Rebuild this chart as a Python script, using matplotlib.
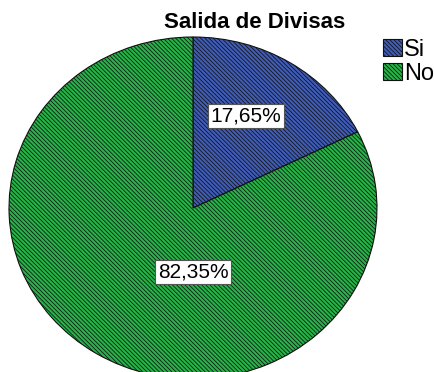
import matplotlib
matplotlib.use("Agg")
import matplotlib.pyplot as plt
from matplotlib.patches import Patch

plt.rcParams["font.family"] = ["Liberation Sans", "DejaVu Sans"]
plt.rcParams["hatch.linewidth"] = 0.55

categories = ["Si", "No"]
shares = [17.65, 82.35]
labels = ["17,65%", "82,35%"]
colors = ["#3f5cb6", "#26b448"]
label_pos = [(0.288, 0.538), (0.0, -0.374)]

hatch = "\\" * 8

fig = plt.figure(figsize=(4.35, 3.72), dpi=100)
# pie is a little wider than tall in the original, so no equal aspect
ax = fig.add_axes([9 / 435, -7 / 372, 368 / 435, 342 / 372])
wedges, _ = ax.pie(shares, colors=colors, startangle=90, counterclock=False,
                   wedgeprops=dict(edgecolor="#111111", linewidth=0.8, hatch=hatch))
ax.set_aspect("auto")
ax.set_xlim(-1, 1)
ax.set_ylim(-1, 1)
ax.axis("off")

for txt, (x, y) in zip(labels, label_pos):
    ax.text(x, y, txt, ha="center", va="center", fontsize=15,
            bbox=dict(boxstyle="square,pad=0.12", fc="white", ec="#555555", lw=0.8))

fig.text(255 / 435, 1 - 22 / 372, "Salida de Divisas", ha="center", va="center",
         fontsize=16, fontweight="bold")

handles = [Patch(facecolor=c, edgecolor="#111111", hatch=hatch, linewidth=0.8) for c in colors]
fig.legend(handles, categories, loc="upper left", bbox_to_anchor=(378 / 435, 1 - 34 / 372),
           frameon=False, fontsize=17, handlelength=0.8, handleheight=0.75,
           handletextpad=0.1, labelspacing=0.1, borderaxespad=0, borderpad=0.2)

fig.savefig("out.png", dpi=100)
